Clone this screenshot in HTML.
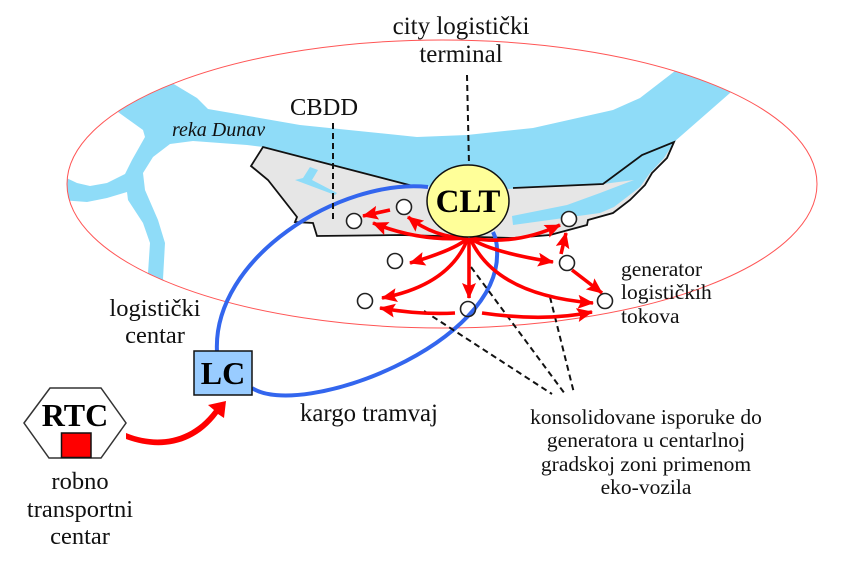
<!DOCTYPE html>
<html><head><meta charset="utf-8"><style>
html,body{margin:0;padding:0;background:#fff;width:846px;height:566px;overflow:hidden}
svg{display:block}
text{font-family:"Liberation Serif",serif;fill:#111}
.l{font-size:21.5px;text-anchor:middle}
.g{font-size:21.5px}
.b{font-weight:bold;font-size:32px;text-anchor:middle;fill:#000}
.r{fill:none;stroke:#f00;stroke-width:3.6;marker-end:url(#a)}
.d{fill:none;stroke:#111;stroke-width:2;stroke-dasharray:6 4}
.c{fill:#fff;stroke:#222;stroke-width:1.6}
</style></head><body>
<svg width="846" height="566" viewBox="0 0 846 566" xmlns="http://www.w3.org/2000/svg">
<defs>
<marker id="a" markerUnits="userSpaceOnUse" markerWidth="18" markerHeight="16" refX="15" refY="7" orient="auto"><path d="M0,0 L16,7 L0,14 L3,7 Z" fill="#f00"/></marker>
<clipPath id="e"><ellipse cx="442" cy="184" rx="375" ry="144"/></clipPath>
</defs>
<g clip-path="url(#e)">
<path d="M172,83 L165,70 L105,100 L118,112 L143,130 L145,137 L132,160 L125,174 L107,183 L90,186 L77,183 L60,175 L60,200 L87,202 L107,198 L127,192 L128,200 L143,223 L150,243 L148,273 L146,290 L170,290 L163,279 L165,243 L158,220 L145,190 L143,173 L153,157 L170,144 L193,141 L247,145 L263,147 L413,186 L509,189 L603,184 L642,155 L674,142 L730,93 L740,85 L670,60 L675,71 L640,98 L613,110 L533,128 L467,135 L417,137 L300,125 L208,109 L197,98 Z" fill="#8fdcf8"/>
</g>
<path d="M263,147 L413,186 L509,189 L603,184 L642,155 L674,142 L667,158 L652,173 L645,185 L630,200 L613,213 L588,220 L587,225 L550,235 L513,238 L477,237 L400,235 L317,236 L313,223 L295,222 L297,217 L268,180 L251,166 Z" fill="#e6e6e6"/>
<path d="M512,216 L513,225 L600,213 L614,207 L640,187 L650,173 L664,158 L674,142 L642,155 L603,184 L634,180 L600,193 L567,205 Z" fill="#8fdcf8"/>
<path d="M295,180 L303,178 L310,167 L318,170 L312,180 L337,193 L335,195 Z" fill="#8fdcf8"/>
<path d="M513,188 L603,184 L642,155 L674,142 L667,158 L652,173 L645,185 L630,200 L613,213 L588,220 L587,225 L550,235 L513,238 L477,237 L400,235 L317,236 L313,223 L295,222 L297,217 L268,180 L251,166 L263,147 L413,186" fill="none" stroke="#111" stroke-width="1.8"/>
<ellipse cx="442" cy="184" rx="375" ry="144" fill="none" stroke="#f55" stroke-width="1"/>
<path d="M428,187 C340,178 212,258 217,352 M252,388 C300,420 503,345 497,250 C497,242 495,236 493,232" fill="none" stroke="#3366ee" stroke-width="4"/>
<path class="d" d="M467,75 L469,165 M333,123 L333,222 M424,311 L552,394 M471,267 L565,394 M550,297 L574,393"/>
<path class="r" d="M390,210 L363,216"/>
<path class="r" d="M468,238 Q435,238 408,217"/>
<path class="r" d="M468,238 Q420,242 373,223"/>
<path class="r" d="M468,238 Q455,250 410,263"/>
<path class="r" d="M468,238 Q450,285 382,298"/>
<path class="r" d="M469,238 L469,298"/>
<path class="r" d="M455,313 Q420,315 380,308"/>
<path class="r" d="M482,313 Q545,322 592,312"/>
<path class="r" d="M470,238 Q495,295 593,303"/>
<path class="r" d="M470,238 Q490,252 553,262"/>
<path class="r" d="M470,238 Q515,246 560,225"/>
<path class="r" d="M561,254 L566,233"/>
<path class="r" d="M572,270 L602,293"/>
<circle class="c" cx="354" cy="221" r="7.5"/><circle class="c" cx="404" cy="207" r="7.5"/><circle class="c" cx="395" cy="261" r="7.5"/><circle class="c" cx="365" cy="301" r="7.5"/><circle class="c" cx="468" cy="309" r="7.5" style="fill:none"/><circle class="c" cx="567" cy="263" r="7.5"/><circle class="c" cx="605" cy="301" r="7.5"/><circle class="c" cx="569" cy="219" r="7.5"/>
<ellipse cx="468" cy="201" rx="41" ry="36" fill="#ffff99" stroke="#111" stroke-width="1.5"/>
<text class="b" x="468" y="212" style="font-size:33px">CLT</text>
<rect x="194" y="351" width="58" height="44" fill="#99ccff" stroke="#111" stroke-width="1.5"/>
<text class="b" x="223" y="384">LC</text>
<path d="M24,423 L50,388 L101,388 L126,423 L101,458 L49,458 Z" fill="#fff" stroke="#333" stroke-width="1.5"/>
<rect x="61.500" y="433" width="29.500" height="24.500" fill="#f00" stroke="#111" stroke-width="1.500"/>
<text class="b" x="75" y="426">RTC</text>
<path d="M126,433 C155,445 190,442 214,410 L208,405 L226,401 L224,418 L218,414 C192,449 155,450 126,439 Z" fill="#f00"/>
<text class="l" x="461" y="34" style="font-size:25px">city logistički</text>
<text class="l" x="461" y="62" style="font-size:25px">terminal</text>
<text class="l" x="324" y="115" style="font-size:24.500px">CBDD</text>
<text x="172" y="136" style="font-size:20px;font-style:italic">reka Dunav</text>
<text class="l" x="155" y="316" style="font-size:24.500px">logistički</text>
<text class="l" x="155" y="343" style="font-size:24.500px">centar</text>
<text class="l" x="80" y="489" style="font-size:24.500px">robno</text>
<text class="l" x="80" y="517" style="font-size:24.500px">transportni</text>
<text class="l" x="80" y="544" style="font-size:24.500px">centar</text>
<text x="300" y="421" style="font-size:24.800px">kargo tramvaj</text>
<text class="g" x="621" y="276">generator</text>
<text class="g" x="621" y="299">logističkih</text>
<text class="g" x="621" y="323">tokova</text>
<text class="l" x="646" y="424">konsolidovane isporuke do</text>
<text class="l" x="646" y="447">generatora u centarlnoj</text>
<text class="l" x="646" y="471">gradskoj zoni primenom</text>
<text class="l" x="646" y="494">eko-vozila</text>
</svg>
</body></html>
